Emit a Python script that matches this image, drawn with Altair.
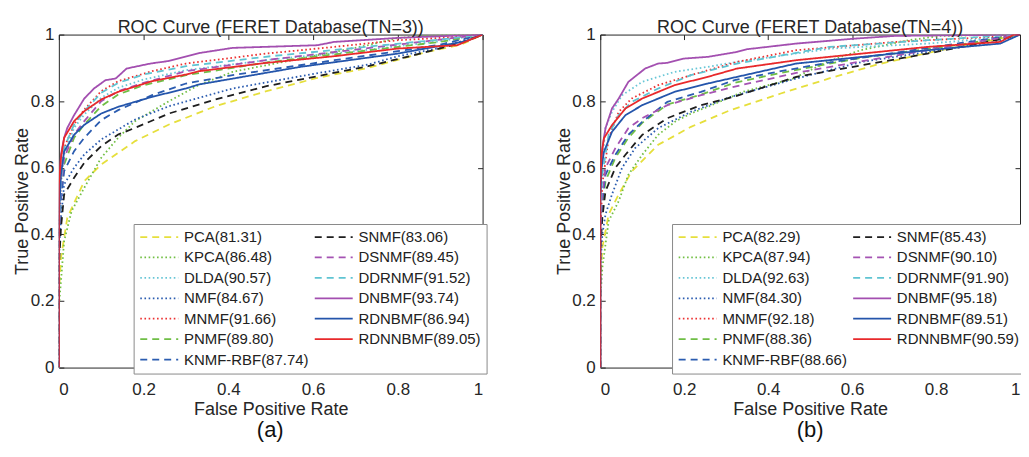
import altair as alt
import pandas as pd

FONT = "Liberation Sans"
W_A, W_B, H = 425, 421, 334
TICKS = [0, 0.2, 0.4, 0.6, 0.8, 1]

METHODS = ["PCA", "KPCA", "DLDA", "NMF", "MNMF", "PNMF", "KNMF-RBF",
           "SNMF", "DSNMF", "DDRNMF", "DNBMF", "RDNBMF", "RDNNBMF"]
SCORES_A = ["81.31", "86.48", "90.57", "84.67", "91.66", "89.80", "87.74",
            "83.06", "89.45", "91.52", "93.74", "86.94", "89.05"]
SCORES_B = ["82.29", "87.94", "92.63", "84.30", "92.18", "88.36", "88.66",
            "85.43", "90.10", "91.90", "95.18", "89.51", "90.59"]
COLORS = ["#e6df3c", "#72bf44", "#68c6d6", "#2b5cb0", "#ec3232", "#6fbe45", "#2b5cb0",
          "#1e1e1e", "#a553b3", "#5fc4d2", "#a34fb0", "#2455ab", "#e8292b"]
DOT = [1.6, 2.6]
DASH = [7, 5]
SOLID = [1, 0]
DASHES = [DASH, DOT, DOT, DOT, DOT, DASH, DASH, DASH, DASH, DASH, SOLID, SOLID, SOLID]

# ---- Panel (a): TN=3 ----
A_PCA_F = [0, 0, 0.005, 0.02, 0.06, 0.1, 0.18, 0.26, 0.37, 0.49, 0.61, 0.73, 0.86, 0.95, 1]
A_PCA_T = [0, 0.22, 0.33, 0.45, 0.56, 0.61, 0.68, 0.73, 0.785, 0.83, 0.87, 0.90, 0.945, 0.97, 1]
A_KPCA_F = [0, 0, 0.005, 0.0125, 0.03, 0.06, 0.1, 0.14, 0.18, 0.26, 0.33, 0.41, 0.57, 0.73, 0.8, 0.9, 1]
A_KPCA_T = [0, 0.18, 0.26, 0.38, 0.47, 0.54, 0.63, 0.69, 0.74, 0.80, 0.848, 0.888, 0.928, 0.968, 0.99, 0.998, 1]
A_DLDA_F = [0, 0, 0.005, 0.0125, 0.036, 0.06, 0.1, 0.14, 0.2, 0.3, 0.5, 0.7, 0.9, 1]
A_DLDA_T = [0, 0.4, 0.55, 0.64, 0.72, 0.76, 0.81, 0.84, 0.865, 0.893, 0.925, 0.95, 0.98, 1]
A_NMF_F = [0, 0, 0.005, 0.0125, 0.036, 0.06, 0.1, 0.14, 0.18, 0.26, 0.41, 0.57, 0.73, 0.8, 0.9, 1]
A_NMF_T = [0, 0.32, 0.45, 0.55, 0.60, 0.64, 0.685, 0.715, 0.745, 0.785, 0.838, 0.875, 0.91, 0.935, 0.96, 1]
A_MNMF_F = [0, 0, 0.005, 0.0125, 0.036, 0.06, 0.1, 0.14, 0.22, 0.3, 0.49, 0.65, 0.8, 0.9, 1]
A_MNMF_T = [0, 0.42, 0.57, 0.66, 0.73, 0.775, 0.83, 0.86, 0.89, 0.913, 0.943, 0.963, 0.983, 0.99, 1]
A_PNMF_F = [0, 0, 0.005, 0.0125, 0.036, 0.06, 0.1, 0.14, 0.2, 0.3, 0.5, 0.7, 0.9, 1]
A_PNMF_T = [0, 0.38, 0.52, 0.61, 0.69, 0.73, 0.785, 0.82, 0.848, 0.878, 0.918, 0.948, 0.978, 1]
A_KNMF_F = [0, 0, 0.005, 0.0125, 0.036, 0.06, 0.1, 0.14, 0.22, 0.3, 0.41, 0.65, 0.8, 0.9, 1]
A_KNMF_T = [0, 0.38, 0.5, 0.59, 0.65, 0.69, 0.743, 0.773, 0.818, 0.853, 0.878, 0.923, 0.95, 0.97, 1]
A_SNMF_F = [0, 0, 0.005, 0.0125, 0.036, 0.06, 0.1, 0.14, 0.18, 0.26, 0.37, 0.49, 0.61, 0.73, 0.86, 0.95, 1]
A_SNMF_T = [0, 0.3, 0.42, 0.52, 0.57, 0.615, 0.665, 0.70, 0.72, 0.763, 0.805, 0.845, 0.875, 0.905, 0.945, 0.975, 1]
A_DSNMF_F = [0, 0, 0.005, 0.0125, 0.036, 0.06, 0.1, 0.14, 0.2, 0.3, 0.5, 0.7, 0.9, 1]
A_DSNMF_T = [0, 0.4, 0.54, 0.63, 0.70, 0.74, 0.80, 0.83, 0.855, 0.89, 0.925, 0.955, 0.985, 1]
A_DDRNMF_F = [0, 0, 0.005, 0.0125, 0.036, 0.06, 0.1, 0.14, 0.2, 0.3, 0.5, 0.7, 0.9, 1]
A_DDRNMF_T = [0, 0.42, 0.56, 0.66, 0.73, 0.77, 0.825, 0.855, 0.88, 0.905, 0.935, 0.96, 0.985, 1]
A_DNBMF_F = [0, 0, 0.005, 0.0125, 0.02, 0.036, 0.06, 0.083, 0.11, 0.134, 0.16, 0.216, 0.256, 0.334, 0.41, 0.61, 0.65, 0.8, 1]
A_DNBMF_T = [0, 0.5, 0.64, 0.69, 0.72, 0.758, 0.808, 0.838, 0.863, 0.868, 0.898, 0.913, 0.92, 0.945, 0.96, 0.968, 0.978, 0.99, 1]
A_RDNBMF_F = [0, 0, 0.005, 0.0125, 0.036, 0.06, 0.1, 0.14, 0.18, 0.22, 0.3, 0.33, 0.57, 0.8, 0.96, 1]
A_RDNBMF_T = [0, 0.45, 0.58, 0.649, 0.699, 0.729, 0.763, 0.783, 0.798, 0.813, 0.838, 0.85, 0.903, 0.943, 0.98, 1]
A_RDNNBMF_F = [0, 0, 0.005, 0.0125, 0.036, 0.06, 0.1, 0.14, 0.22, 0.3, 0.33, 0.49, 0.65, 0.8, 0.94, 1]
A_RDNNBMF_T = [0, 0.55, 0.63, 0.69, 0.74, 0.77, 0.805, 0.828, 0.86, 0.88, 0.89, 0.915, 0.935, 0.958, 0.968, 1]

# ---- Panel (b): TN=4 ----
B_PCA_F = [0, 0, 0.005, 0.02, 0.044, 0.075, 0.138, 0.216, 0.31, 0.43, 0.55, 0.66, 0.78, 0.9, 1]
B_PCA_T = [0, 0.25, 0.36, 0.46, 0.52, 0.589, 0.669, 0.723, 0.773, 0.823, 0.87, 0.91, 0.945, 0.975, 1]
B_KPCA_F = [0, 0, 0.005, 0.02, 0.044, 0.067, 0.1, 0.138, 0.18, 0.22, 0.26, 0.34, 0.46, 0.54, 0.62, 0.735, 0.81, 1]
B_KPCA_T = [0, 0.2, 0.3, 0.44, 0.5, 0.579, 0.639, 0.699, 0.74, 0.765, 0.785, 0.828, 0.868, 0.918, 0.953, 0.983, 0.996, 1]
B_DLDA_F = [0, 0, 0.005, 0.0125, 0.028, 0.052, 0.1, 0.177, 0.256, 0.326, 0.55, 0.78, 0.9, 1]
B_DLDA_T = [0, 0.45, 0.62, 0.72, 0.768, 0.818, 0.858, 0.888, 0.903, 0.918, 0.958, 0.973, 0.985, 1]
B_NMF_F = [0, 0, 0.005, 0.0125, 0.028, 0.052, 0.083, 0.138, 0.216, 0.311, 0.467, 0.624, 0.78, 0.938, 1]
B_NMF_T = [0, 0.3, 0.4, 0.46, 0.52, 0.60, 0.659, 0.719, 0.768, 0.813, 0.868, 0.918, 0.948, 0.978, 1]
B_MNMF_F = [0, 0, 0.005, 0.02, 0.044, 0.075, 0.138, 0.216, 0.326, 0.467, 0.703, 0.938, 1]
B_MNMF_T = [0, 0.4, 0.55, 0.689, 0.768, 0.808, 0.848, 0.878, 0.918, 0.953, 0.978, 0.993, 1]
B_PNMF_F = [0, 0, 0.005, 0.0125, 0.036, 0.067, 0.1, 0.16, 0.24, 0.32, 0.43, 0.62, 0.86, 1]
B_PNMF_T = [0, 0.38, 0.48, 0.56, 0.63, 0.69, 0.735, 0.79, 0.82, 0.855, 0.885, 0.93, 0.97, 1]
B_KNMF_F = [0, 0, 0.005, 0.0125, 0.036, 0.067, 0.1, 0.16, 0.24, 0.32, 0.43, 0.54, 0.7, 0.86, 1]
B_KNMF_T = [0, 0.4, 0.5, 0.579, 0.639, 0.699, 0.738, 0.798, 0.828, 0.863, 0.89, 0.915, 0.945, 0.975, 1]
B_SNMF_F = [0, 0, 0.005, 0.0125, 0.036, 0.06, 0.1, 0.16, 0.24, 0.318, 0.467, 0.624, 0.78, 0.962, 1]
B_SNMF_T = [0, 0.35, 0.45, 0.53, 0.6, 0.639, 0.699, 0.749, 0.788, 0.813, 0.873, 0.908, 0.943, 0.988, 1]
B_DSNMF_F = [0, 0, 0.005, 0.0125, 0.036, 0.067, 0.1, 0.16, 0.24, 0.318, 0.467, 0.624, 0.86, 1]
B_DSNMF_T = [0, 0.42, 0.52, 0.6, 0.659, 0.719, 0.749, 0.788, 0.818, 0.843, 0.885, 0.92, 0.97, 1]
B_DDRNMF_F = [0, 0, 0.005, 0.02, 0.044, 0.075, 0.138, 0.216, 0.326, 0.546, 0.78, 1]
B_DDRNMF_T = [0, 0.45, 0.58, 0.7, 0.758, 0.798, 0.838, 0.878, 0.913, 0.963, 0.983, 1]
B_DNBMF_F = [0, 0, 0.005, 0.0125, 0.028, 0.044, 0.067, 0.107, 0.138, 0.16, 0.2, 0.256, 0.326, 0.35, 0.467, 0.608, 0.703, 1]
B_DNBMF_T = [0, 0.55, 0.66, 0.719, 0.778, 0.808, 0.858, 0.898, 0.913, 0.915, 0.928, 0.933, 0.948, 0.956, 0.973, 0.988, 0.996, 1]
B_RDNBMF_F = [0, 0, 0.003, 0.009, 0.028, 0.06, 0.1, 0.177, 0.256, 0.326, 0.467, 0.624, 0.78, 0.953, 1]
B_RDNBMF_T = [0, 0.5, 0.6, 0.649, 0.708, 0.758, 0.788, 0.828, 0.853, 0.873, 0.913, 0.933, 0.953, 0.973, 1]
B_RDNNBMF_F = [0, 0, 0.003, 0.009, 0.028, 0.06, 0.1, 0.177, 0.256, 0.326, 0.467, 0.624, 0.78, 0.953, 0.985, 1]
B_RDNNBMF_T = [0, 0.55, 0.64, 0.689, 0.728, 0.778, 0.808, 0.848, 0.873, 0.898, 0.923, 0.943, 0.963, 0.978, 1, 1]

CURVES_A = [(A_PCA_F, A_PCA_T), (A_KPCA_F, A_KPCA_T), (A_DLDA_F, A_DLDA_T), (A_NMF_F, A_NMF_T),
            (A_MNMF_F, A_MNMF_T), (A_PNMF_F, A_PNMF_T), (A_KNMF_F, A_KNMF_T), (A_SNMF_F, A_SNMF_T),
            (A_DSNMF_F, A_DSNMF_T), (A_DDRNMF_F, A_DDRNMF_T), (A_DNBMF_F, A_DNBMF_T),
            (A_RDNBMF_F, A_RDNBMF_T), (A_RDNNBMF_F, A_RDNNBMF_T)]
CURVES_B = [(B_PCA_F, B_PCA_T), (B_KPCA_F, B_KPCA_T), (B_DLDA_F, B_DLDA_T), (B_NMF_F, B_NMF_T),
            (B_MNMF_F, B_MNMF_T), (B_PNMF_F, B_PNMF_T), (B_KNMF_F, B_KNMF_T), (B_SNMF_F, B_SNMF_T),
            (B_DSNMF_F, B_DSNMF_T), (B_DDRNMF_F, B_DDRNMF_T), (B_DNBMF_F, B_DNBMF_T),
            (B_RDNBMF_F, B_RDNBMF_T), (B_RDNNBMF_F, B_RDNNBMF_T)]


def frame(curves, scores):
    rows = []
    for k, (fs, ts) in enumerate(curves):
        label = f"{METHODS[k]}({scores[k]})"
        for i, (f, t) in enumerate(zip(fs, ts)):
            rows.append({"label": label, "k": k, "i": i, "fpr": f, "tpr": t})
    return pd.DataFrame(rows)


def panel(curves, scores, title, letter, w, leg_x):
    df = frame(curves, scores)
    labels = [f"{METHODS[k]}({scores[k]})" for k in range(len(METHODS))]
    xs = alt.Scale(domain=[0, 1], nice=False, zero=False)
    ys = alt.Scale(domain=[0, 1], nice=False, zero=False)
    leg = alt.Legend(title=None, orient="none", legendX=leg_x, legendY=190, columns=2,
                     symbolType="M-1,0H5", symbolSize=161, symbolStrokeWidth=1.8,
                     labelFont=FONT, labelFontSize=15, labelColor="#222222", labelOffset=30,
                     rowPadding=4.5, columnPadding=1, padding=5.5,
                     fillColor="white", strokeColor="#8a8a8a", cornerRadius=0)
    base = alt.Chart(df)
    lines = base.mark_line(strokeWidth=1.8, clip=True).encode(
        x=alt.X("fpr:Q", scale=xs, axis=alt.Axis(values=TICKS, format="~g", tickSize=0, domain=False,
                                                   grid=False, labelPadding=14, labelFontSize=17,
                                                   labelFont=FONT, labelColor="#262626",
                                                   title="False Positive Rate", titleFont=FONT,
                                                   titleFontSize=18, titleFontWeight="normal",
                                                   titleColor="#262626", titlePadding=3)),
        y=alt.Y("tpr:Q", scale=ys, axis=alt.Axis(values=TICKS, format="~g", tickSize=0, domain=False,
                                                   grid=False, labelPadding=5, labelFontSize=17,
                                                   labelFont=FONT, labelColor="#262626",
                                                   title="True Positive Rate", titleFont=FONT,
                                                   titleFontSize=18, titleFontWeight="normal",
                                                   titleColor="#262626", titleX=-27)),
        color=alt.Color("label:N", scale=alt.Scale(domain=labels, range=COLORS), legend=leg),
        strokeDash=alt.StrokeDash("label:N", scale=alt.Scale(domain=labels, range=DASHES), legend=leg),
        order="i:Q",
    )
    tick_kw = dict(values=TICKS, labels=False, domain=False, grid=False, ticks=True,
                   tickSize=5, tickColor="#262626", tickWidth=1, title=None)
    t1 = base.mark_point(opacity=0, size=0, strokeWidth=0, clip=True).encode(
        x=alt.X("fpr:Q", scale=xs, axis=alt.Axis(orient="top", offset=-H, **tick_kw)),
        y=alt.Y("tpr:Q", scale=ys, axis=alt.Axis(orient="right", offset=-w, **tick_kw)),
    )
    t2 = base.mark_point(opacity=0, size=0, strokeWidth=0, clip=True).encode(
        x=alt.X("fpr:Q", scale=xs, axis=alt.Axis(orient="bottom", offset=-H, **tick_kw)),
        y=alt.Y("tpr:Q", scale=ys, axis=alt.Axis(orient="left", offset=-w, **tick_kw)),
    )
    layer = alt.layer(lines, t1, t2).resolve_axis(x="independent", y="independent").properties(
        width=w, height=H,
        title=alt.TitleParams(title, font=FONT, fontSize=18, fontWeight="normal",
                              color="#262626", offset=-11))
    return alt.vconcat(layer, title=alt.TitleParams(letter, orient="bottom", anchor="middle", dx=20,
                                                   font=FONT, fontSize=22, fontWeight="normal",
                                                   color="#111111", offset=1))


pa = panel(CURVES_A, SCORES_A, "ROC Curve (FERET Database(TN=3))", "(a)", W_A, 75)
pb = panel(CURVES_B, SCORES_B, "ROC Curve (FERET Database(TN=4))", "(b)", W_B, 72)

chart = alt.hconcat(pa, pb, spacing=67).resolve_scale(
    color="independent", strokeDash="independent").resolve_legend(
    color="independent", strokeDash="independent").properties(
    padding={"left": 5, "top": 9, "right": -5, "bottom": 1}).configure_view(
    stroke="#262626", strokeWidth=1)

chart.save("out.html", embed_options={"renderer": "svg", "actions": False})
